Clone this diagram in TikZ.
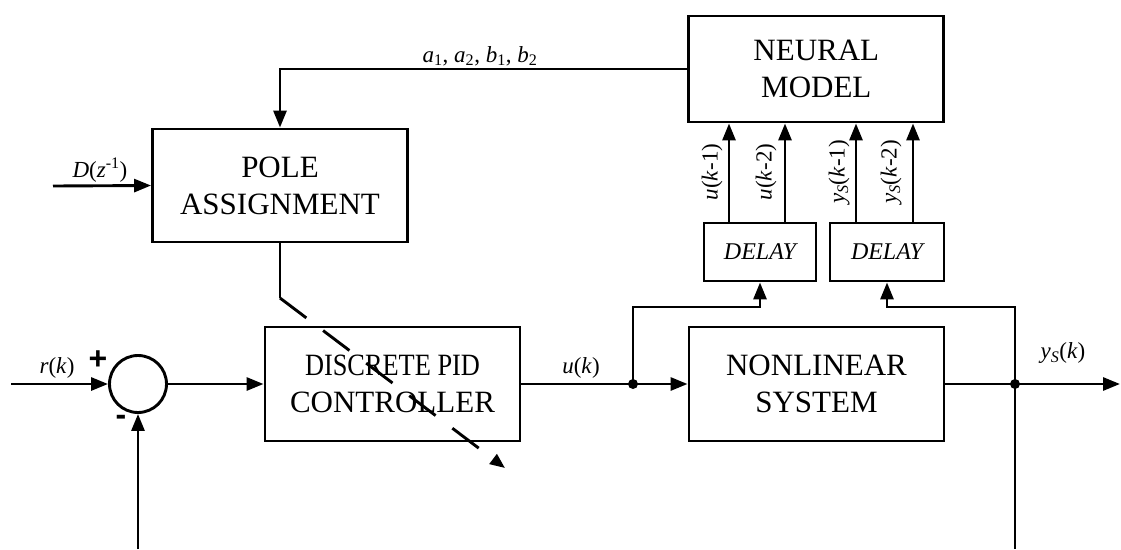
\documentclass[tikz,border=0pt]{standalone}
\usepackage{fontspec}
\setmainfont{Liberation Serif}
\setsansfont{Liberation Sans}
\usetikzlibrary{arrows.meta,calc}
\begin{document}
\begin{tikzpicture}[x=1pt,y=-1pt,line width=2.9pt,
  arr/.style={-{Triangle[length=17pt,width=13pt]}},
  blk/.style={draw,rectangle,inner sep=0pt,align=center,minimum width=255pt,
    font=\fontsize{31}{37}\selectfont},
  dly/.style={draw,rectangle,inner sep=0pt,minimum height=58pt,
    font=\fontsize{24}{28}\selectfont\itshape},
  lbl/.style={inner sep=0pt,font=\fontsize{23}{27}\selectfont},
  jdot/.style={circle,fill,inner sep=0pt,minimum size=10pt},
  sgn/.style={inner sep=0pt,font=\fontsize{32}{32}\selectfont\sffamily\bfseries}]
\useasboundingbox (0,0) rectangle (1121,549);

% blocks
\node[blk,minimum height=113pt] (pole) at (280,185.5) {POLE\\ASSIGNMENT};
\node[blk,minimum height=106pt] (neural) at (816.3,69) {NEURAL\\MODEL};
\node[dly,minimum width=112pt] (delay1) at (760,252) {DELAY};
\node[dly,minimum width=114pt] (delay2) at (887,252) {DELAY};
\node[blk,minimum height=114pt] (pid) at (392.5,384) {\scalebox{0.85}[1]{DISCRETE PID}\\CONTROLLER};
\node[blk,minimum height=114pt] (nls) at (816.5,384) {NONLINEAR\\SYSTEM};
\node[draw,circle,inner sep=0pt,minimum size=57pt] (sum) at (138,384) {};

% junctions and free ends
\node[jdot] (j1) at (633,384) {};
\node[jdot] (j2) at (1015,384) {};
\coordinate (rin) at (11,384);
\coordinate (dIn) at (53,186);
\coordinate (yout) at (1120,384);
\coordinate (fbL) at (138,549);
\coordinate (fbR) at (1015,549);
\coordinate (t1) at (760,307);
\coordinate (t2) at (887,307);
\coordinate (pk) at (280,298);
\coordinate (ptip) at (505,468);
\coordinate (x1) at (729,0);
\coordinate (x2) at (785,0);
\coordinate (x3) at (856,0);
\coordinate (x4) at (913,0);

% connectors
\draw[arr] (neural.west) -| (pole.north);
\draw[arr] (dIn) -- (pole.west);
\draw (pole.south) -- (pk);
\draw[dash pattern=on 33pt off 21pt,-{Triangle[length=15pt,width=12pt]}] (pk) -- (ptip);
\draw[arr] (rin) -- (sum.west);
\draw[arr] (fbL) -- (sum.south);
\draw[arr] (sum.east) -- (pid.west);
\draw (pid.east) -- (j1.center);
\draw[arr] (j1.center) -- (nls.west);
\draw[arr] (j1.center) |- (t1) -- (delay1.south);
\draw (nls.east) -- (j2.center);
\draw[arr] (j2.center) -- (yout);
\draw[arr] (j2.center) |- (t2) -- (delay2.south);
\draw (j2.center) -- (fbR);
\draw[arr] (x1 |- delay1.north) -- (x1 |- neural.south);
\draw[arr] (x2 |- delay1.north) -- (x2 |- neural.south);
\draw[arr] (x3 |- delay2.north) -- (x3 |- neural.south);
\draw[arr] (x4 |- delay2.north) -- (x4 |- neural.south);

% labels
\node[lbl] (lab) at (480,56) {\textit{a}\textsubscript{1}, \textit{a}\textsubscript{2}, \textit{b}\textsubscript{1}, \textit{b}\textsubscript{2}};
\node[lbl] (ld) at (100,170) {\textit{D}(\textit{z}\textsuperscript{-1})};
\node[lbl] (lr) at (57,368) {\textit{r}(\textit{k})};
\node[lbl] (lu) at (581,368) {\textit{u}(\textit{k})};
\node[lbl] (ly) at (1063,353) {\textit{y}\textsubscript{\textit{S}}(\textit{k})};
\node[lbl,rotate=90] (lu1) at (712,172) {\textit{u}(\textit{k}-1)};
\node[lbl,rotate=90] (lu2) at (766,172) {\textit{u}(\textit{k}-2)};
\node[lbl,rotate=90] (ly1) at (839,172) {\textit{y}\textsubscript{\textit{S}}(\textit{k}-1)};
\node[lbl,rotate=90] (ly2) at (891,172) {\textit{y}\textsubscript{\textit{S}}(\textit{k}-2)};
\node[sgn] (plus) at (98,360) {+};
\node[sgn] (minus) at (121,420) {-};
\end{tikzpicture}
\end{document}
